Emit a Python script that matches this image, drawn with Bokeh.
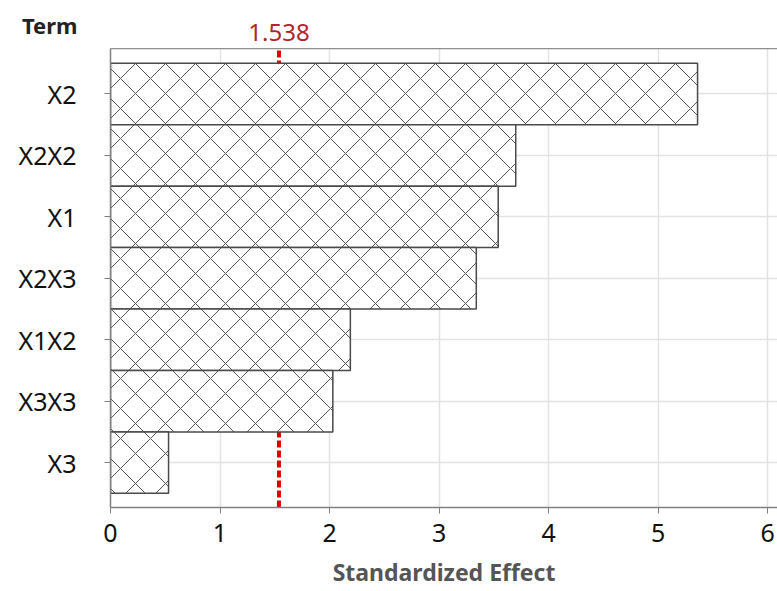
from bokeh.plotting import figure
from bokeh.models import Range1d, LinearAxis, FixedTicker, ColumnDataSource
from bokeh.layouts import column
from bokeh.core.properties import value
from bokeh.embed import file_html
from bokeh.resources import INLINE

terms = ["X2", "X2X2", "X1", "X2X3", "X1X2", "X3X3", "X3"]
effects = [5.36, 3.70, 3.54, 3.34, 2.19, 2.03, 0.53]
positions = [7, 6, 5, 4, 3, 2, 1]
threshold = 1.538
x_ticks = [0, 1, 2, 3, 4, 5, 6]
y_axis_title = "Term"
x_axis_title = "Standardized Effect"

FONT = "Noto Sans"
W = 777
LEFT = 110
X_END = 6.09
HEADER_H = 48

# ---------- header strip (axis title "Term" and threshold value) ----------
header = figure(width=W, height=HEADER_H, output_backend="svg", toolbar_location=None,
                x_range=Range1d(0, X_END), y_range=Range1d(0, HEADER_H),
                min_border_left=LEFT, min_border_right=0,
                min_border_top=0, min_border_bottom=0)
header.xaxis.visible = False
header.grid.visible = False
header.outline_line_color = None
hy = header.yaxis[0]
hy.ticker = FixedTicker(ticks=[])
hy.axis_line_color = None
hy.major_tick_line_color = None
hy.minor_tick_line_color = None
hy.major_tick_out = 0
hy.major_tick_in = 0
hy.major_label_text_font_size = "0px"
hy.major_label_standoff = 0
hy.axis_label = y_axis_title
hy.axis_label_orientation = "horizontal"
hy.axis_label_standoff = 33
hy.axis_label_text_font = FONT
hy.axis_label_text_font_style = "bold"
hy.axis_label_text_font_size = "22px"
hy.axis_label_text_color = "#222222"
header.text(x=[threshold], y=[HEADER_H - 32], text=[f"{threshold}"],
            text_font=value(FONT), text_font_size="24px", text_color="#b0262c",
            text_baseline="middle", text_align="center")

# ---------- main chart ----------
p = figure(width=W, height=591 - HEADER_H, output_backend="svg", toolbar_location=None,
           x_range=Range1d(0, X_END), y_range=Range1d(0.27, 7.74),
           min_border_left=LEFT, min_border_top=0, min_border_right=0, min_border_bottom=84)
p.outline_line_color = None
p.background_fill_color = "white"

# threshold line drawn first so bars cover it
p.segment(x0=[threshold], x1=[threshold], y0=[0.27], y1=[7.74],
          line_color="#e00000", line_width=4, line_dash="7 3")

src = ColumnDataSource(dict(y=positions, right=effects))
p.hbar(y="y", right="right", left=0, height=1.0, source=src,
       fill_color="white", line_color="#4a4a4a", line_width=1.5,
       hatch_pattern="diagonal_cross", hatch_scale=30, hatch_color="#555555", hatch_weight=1)

# grids
p.xgrid.ticker = FixedTicker(ticks=x_ticks)
p.ygrid.ticker = FixedTicker(ticks=positions)
for g in (p.xgrid, p.ygrid):
    g.grid_line_color = "#e3e3e3"
    g.grid_line_width = 1.5

# x axis
xa = p.xaxis[0]
xa.ticker = FixedTicker(ticks=x_ticks)
xa.axis_label = x_axis_title
xa.axis_label_text_font = FONT
xa.axis_label_text_font_style = "bold"
xa.axis_label_text_font_size = "23px"
xa.axis_label_text_color = "#555555"
xa.axis_label_standoff = 11
xa.major_label_text_font = FONT
xa.major_label_text_font_size = "25px"
xa.major_label_text_color = "#111111"
xa.major_label_standoff = 10
xa.axis_line_color = "#808080"
xa.axis_line_width = 1.5
xa.major_tick_line_color = "#808080"
xa.major_tick_out = 6
xa.major_tick_in = 0
xa.minor_tick_line_color = None

# y axis
ya = p.yaxis[0]
ya.ticker = FixedTicker(ticks=positions)
ya.major_label_overrides = {pos: t for pos, t in zip(positions, terms)}
ya.major_label_text_font = FONT
ya.major_label_text_font_size = "25px"
ya.major_label_text_color = "#111111"
ya.major_label_standoff = 28
ya.axis_line_color = "#808080"
ya.axis_line_width = 1.5
ya.major_tick_line_color = "#808080"
ya.major_tick_out = 6
ya.major_tick_in = 0
ya.minor_tick_line_color = None

# top border line
top = LinearAxis(ticker=FixedTicker(ticks=[]), major_label_text_font_size="0px",
                 major_label_standoff=0, major_tick_out=0, major_tick_in=0,
                 major_tick_line_color=None, minor_tick_line_color=None,
                 axis_line_color="#909090", axis_line_width=1.5)
p.add_layout(top, "above")

layout = column(header, p, spacing=0)
open("out.html", "w").write(file_html(layout, INLINE))
